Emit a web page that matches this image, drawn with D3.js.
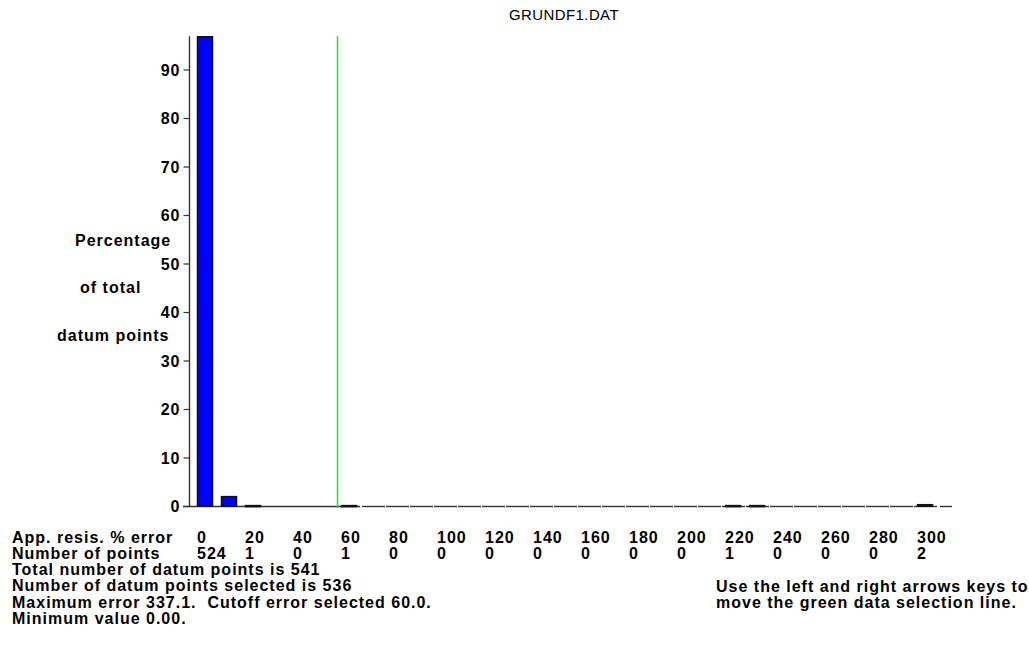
<!DOCTYPE html>
<html><head><meta charset="utf-8">
<script src="https://cdn.jsdelivr.net/npm/d3@7"></script>
<style>
html,body{margin:0;padding:0;background:#fff;}
svg text{font-family:"Liberation Sans",Arial,sans-serif;font-weight:bold;fill:#000;font-size:16px;letter-spacing:1px;white-space:pre;}
</style></head>
<body><svg id="c" width="1029" height="654"></svg>
<script>
// ---- data ----
const title = "GRUNDF1.DAT";
const binStarts = d3.range(0, 310, 10);           // bins 0,10,...,300 (% error)
const binCounts = [524, 11, 1, 0, 0, 0, 1, 0, 0, 0, 0, 0, 0, 0, 0, 0,
                   0, 0, 0, 0, 0, 0, 1, 1, 0, 0, 0, 0, 0, 0, 2];
const labelValues = [0,20,40,60,80,100,120,140,160,180,200,220,240,260,280,300];
const yTicks = [0,10,20,30,40,50,60,70,80,90];
const yTitleLines = ["Percentage", "of total", "datum points"];
const cutoff = 60;
const totalPoints = 541;
const infoLines = [
  "Total number of datum points is 541",
  "Number of datum points selected is 536",
  "Maximum error 337.1.  Cutoff error selected 60.0.",
  "Minimum value 0.00."
];
const helpLines = ["Use the left and right arrows keys to", "move the green data selection line."];

// ---- scales ----
const svg = d3.select("#c");
const x = d3.scaleLinear().domain([0, 316.25]).range([193, 952]);
const y = d3.scaleLinear().domain([0, 100]).range([506, 21]);
const pct = binCounts.map(c => c / totalPoints * 100);
const maxPct = d3.max(pct);
const slot = x(10) - x(0);

// title
svg.append("text").attr("x", 564).attr("y", 20).attr("text-anchor", "middle")
  .style("font-weight", "normal").style("font-size", "15px").style("letter-spacing", "0.4px").text(title);

// baseline: continuous up to end of cutoff bin, then per-bin segments
const base = y(0) + 0.5;
function seg(x1, x2) {
  svg.append("line").attr("x1", x1).attr("x2", x2).attr("y1", base).attr("y2", base)
    .attr("stroke", "#333").attr("stroke-width", 1.4);
}
seg(183, x(cutoff + 10) - 1);
binStarts.filter(b => b > cutoff).forEach(b => seg(x(b) + 1, x(b) + slot));
seg(x(310) + 3, x(316.25));

// y axis
const yAxis = d3.axisLeft(y).tickValues(yTicks).tickSize(6).tickPadding(3).tickFormat(d3.format("d"));
const ga = svg.append("g").attr("transform", "translate(189.5,0)").call(yAxis);
ga.select(".domain").remove();
ga.selectAll(".tick line").attr("stroke", "#333").attr("stroke-width", 1.2);
ga.selectAll(".tick text").style("font-size", "16px").style("font-family", "Liberation Sans, Arial, sans-serif")
  .style("font-weight", "bold").style("letter-spacing", "1px").attr("fill", "#000").attr("dy", "0.36em");
svg.append("line").attr("x1", 189.5).attr("x2", 189.5).attr("y1", y(maxPct)).attr("y2", y(0))
  .attr("stroke", "#333").attr("stroke-width", 1.4);

// y title
const yTitleX = [75, 80, 57];
const yTitleY = [246, 293, 341];
yTitleLines.forEach((t, i) => {
  svg.append("text").attr("x", yTitleX[i]).attr("y", yTitleY[i]).text(t);
});

// bars
svg.selectAll("rect.bar").data(binStarts.map((b, i) => ({b, p: pct[i]})).filter(d => d.p > 0))
  .enter().append("rect").attr("class", "bar")
  .attr("x", d => x(d.b) + 4.5).attr("width", slot - 9)
  .attr("y", d => y(d.p) + 0.5).attr("height", d => Math.max(1, y(0) - y(d.p) - 0.5))
  .attr("fill", "#0000ff").attr("stroke", "#111").attr("stroke-width", 1.5);

// green selection line
svg.append("line").attr("x1", x(cutoff) + 0.5).attr("x2", x(cutoff) + 0.5)
  .attr("y1", y(maxPct)).attr("y2", y(0) + 2).attr("stroke", "#14f014").attr("stroke-width", 1.5);

// bottom rows
const row1 = 543, row2 = 559;
svg.append("text").attr("x", 12).attr("y", row1).text("App. resis. % error");
svg.append("text").attr("x", 12).attr("y", row2).text("Number of points");
labelValues.forEach(v => {
  const i = binStarts.indexOf(v);
  svg.append("text").attr("x", x(v) + 4).attr("y", row1).text(v);
  svg.append("text").attr("x", x(v) + 4).attr("y", row2).text(binCounts[i]);
});
infoLines.forEach((t, i) => {
  svg.append("text").attr("x", 12).attr("y", 575 + i * 16.4).text(t);
});
helpLines.forEach((t, i) => {
  svg.append("text").attr("x", 716).attr("y", 591.5 + i * 16.4).text(t);
});
</script></body></html>
